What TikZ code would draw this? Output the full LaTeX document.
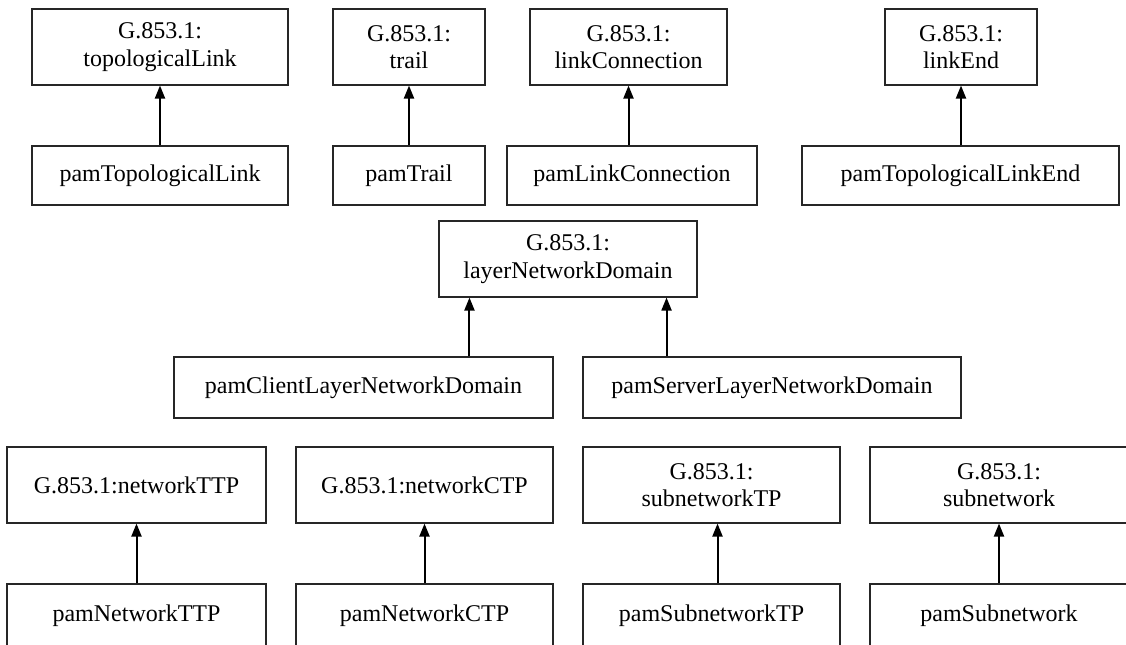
\documentclass[tikz,border=0pt]{standalone}
\usepackage{fontspec}
\setmainfont{Liberation Serif}
\usetikzlibrary{arrows.meta}
\tikzset{
  box/.style={draw=black!85, line width=0.8pt, align=center, inner sep=0pt,
    font=\fontsize{18}{20.7}\selectfont},
  arr/.style={line width=1.5pt, -{Triangle[length=9.75pt, width=7.5pt]}}
}
\newcommand\mkbox[6]{\node[box, minimum width={(#4-#2)*0.75pt}, minimum height={(#5-#3)*0.75pt}] (#1) at ({(#2+#4)/2},{(#3+#5)/2}) {#6};}
\begin{document}
\begin{tikzpicture}[x=0.75pt, y=-0.75pt]
\useasboundingbox (0,0) rectangle (1126,644);
\clip (0,0) rectangle (1126,644);
% top row
\mkbox{gTL}{32}{9}{288}{85}{G.853.1:\\topologicalLink}
\mkbox{pTL}{32}{146}{288}{205}{pamTopologicalLink}
\mkbox{gTR}{333}{9}{485}{85}{G.853.1:\\trail}
\mkbox{pTR}{333}{146}{485}{205}{pamTrail}
\mkbox{gLC}{530}{9}{727}{85}{G.853.1:\\linkConnection}
\mkbox{pLC}{507}{146}{757}{205}{pamLinkConnection}
\mkbox{gLE}{885}{9}{1037}{85}{G.853.1:\\linkEnd}
\mkbox{pLE}{802}{146}{1119}{205}{pamTopologicalLinkEnd}
% middle
\mkbox{gLND}{439}{221}{697}{297}{G.853.1:\\layerNetworkDomain}
\mkbox{pCL}{174}{357}{553}{418}{pamClientLayerNetworkDomain}
\mkbox{pSV}{583}{357}{961}{418}{pamServerLayerNetworkDomain}
% bottom
\mkbox{gTTP}{7}{447}{266}{523}{G.853.1:networkTTP}
\mkbox{gCTP}{296}{447}{553}{523}{G.853.1:networkCTP}
\mkbox{gSTP}{583}{447}{840}{523}{G.853.1:\\subnetworkTP}
\mkbox{gSN}{870}{447}{1128}{523}{G.853.1:\\subnetwork}
\mkbox{pTTP}{7}{584}{266}{647}{pamNetworkTTP}
\mkbox{pCTP}{296}{584}{553}{647}{pamNetworkCTP}
\mkbox{pSTP}{583}{584}{840}{647}{pamSubnetworkTP}
\mkbox{pSN}{870}{584}{1128}{647}{pamSubnetwork}
% arrow anchor points
\coordinate (cCL) at ([xshift=23.25pt]gLND.south west);
\coordinate (cSV) at ([xshift=-23.25pt]gLND.south east);
\coordinate (cSTP) at ([xshift=4.5pt]gSTP.south);
% arrows
\draw[arr] (pTL.north -| gTL.south) -- (gTL.south);
\draw[arr] (pTR.north -| gTR.south) -- (gTR.south);
\draw[arr] (pLC.north -| gLC.south) -- (gLC.south);
\draw[arr] (pLE.north -| gLE.south) -- (gLE.south);
\draw[arr] (cCL |- pCL.north) -- (cCL);
\draw[arr] (cSV |- pSV.north) -- (cSV);
\draw[arr] (pTTP.north -| gTTP.south) -- (gTTP.south);
\draw[arr] (pCTP.north -| gCTP.south) -- (gCTP.south);
\draw[arr] (cSTP |- pSTP.north) -- (cSTP);
\draw[arr] (pSN.north -| gSN.south) -- (gSN.south);
\end{tikzpicture}
\end{document}
